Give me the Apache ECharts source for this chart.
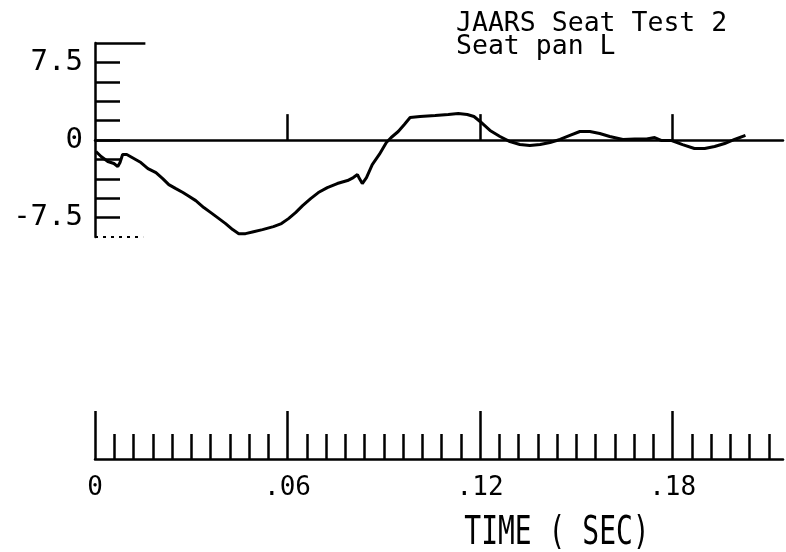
<!DOCTYPE html>
<html>
<head>
<meta charset="utf-8">
<script src="https://cdn.jsdelivr.net/npm/echarts@6/dist/echarts.min.js"></script>
<style>
  html, body { margin: 0; padding: 0; background: #fff; }
  #chart { width: 786px; height: 552px; }
</style>
</head>
<body>
<div id="chart"></div>
<script>
// Seat pan load trace, JAARS seat test 2 (time in seconds, load in plot units)
const timeSec = [
  0.0003, 0.0019, 0.0040, 0.0059, 0.0071, 0.0078, 0.0086, 0.0099, 0.0121, 0.0143,
  0.0165, 0.0190, 0.0211, 0.0230, 0.0252, 0.0274, 0.0289, 0.0314, 0.0339, 0.0361,
  0.0382, 0.0407, 0.0429, 0.0448, 0.0469, 0.0494, 0.0522, 0.0556, 0.0581, 0.0603,
  0.0625, 0.0647, 0.0672, 0.0696, 0.0724, 0.0755, 0.0787, 0.0805, 0.0818, 0.0824,
  0.0833, 0.0846, 0.0864, 0.0886, 0.0908, 0.0923, 0.0945, 0.0964, 0.0982, 0.1013,
  0.1060, 0.1101, 0.1132, 0.1160, 0.1181, 0.1200, 0.1231, 0.1262, 0.1293, 0.1324,
  0.1355, 0.1387, 0.1418, 0.1449, 0.1480, 0.1511, 0.1542, 0.1573, 0.1604, 0.1645,
  0.1682, 0.1719, 0.1744, 0.1766, 0.1797, 0.1831, 0.1868, 0.1900, 0.1931, 0.1962,
  0.1993, 0.2027
];
const seatPanLoad = [
  -1.11, -1.60, -2.08, -2.27, -2.57, -2.18, -1.40, -1.40, -1.79, -2.18,
  -2.76, -3.15, -3.73, -4.31, -4.70, -5.08, -5.37, -5.86, -6.53, -7.02,
  -7.50, -8.08, -8.66, -9.05, -9.05, -8.86, -8.66, -8.37, -8.08, -7.60,
  -7.02, -6.34, -5.66, -5.08, -4.60, -4.21, -3.92, -3.63, -3.34, -3.73,
  -4.21, -3.63, -2.37, -1.40, -0.24, 0.24, 0.82, 1.50, 2.18, 2.27,
  2.37, 2.47, 2.57, 2.47, 2.27, 1.79, 0.92, 0.34, -0.15, -0.44,
  -0.53, -0.44, -0.24, 0.05, 0.44, 0.82, 0.82, 0.63, 0.34, 0.05,
  0.10, 0.10, 0.24, -0.05, -0.05, -0.44, -0.82, -0.82, -0.63, -0.34,
  0.05, 0.44
];

// Axis ticks and labels
const loadStep = 1.875;
const loadMin = -9.375, loadMax = 9.375;
const yTickValues = [-7.5, -5.625, -3.75, -1.875, 0, 1.875, 3.75, 5.625, 7.5];
const yLabelValues = [-7.5, 0, 7.5];
const yLabelTexts = ['-7.5', '0', '7.5'];
const timeMajorTicks = [0, 0.06, 0.12, 0.18];
const timeMajorLabels = ['0', '.06', '.12', '.18'];
const timeMinorStep = 0.006;
const timeMinorCount = 35;
const timeMarkers = [0.06, 0.12, 0.18];
const markerHeight = 2.5;
const timeMax = 0.2144;

const timeMinorTicks = [];
for (let i = 1; i <= timeMinorCount; i++) {
  if (i % 10 !== 0) timeMinorTicks.push(+(i * timeMinorStep).toFixed(4));
}

const INK = '#000';
const MONO = '"DejaVu Sans Mono", "Liberation Mono", monospace';

const chart = echarts.init(document.getElementById('chart'), null, { renderer: 'canvas' });

const markerLines = timeMarkers.map(t => [{ coord: [t, 0] }, { coord: [t, markerHeight] }]);

const plotRect = { left: 95, right: 3, top: 43, bottom: 315 };
const scaleRect = { left: 95, right: 3, top: 400, bottom: 93 };

const labelFor = (values, texts) => v => {
  const i = values.findIndex(t => Math.abs(t - v) < 1e-6);
  return i >= 0 ? texts[i] : '';
};

chart.setOption({
  animation: false,
  backgroundColor: '#fff',
  grid: [
    Object.assign({}, plotRect),
    Object.assign({}, scaleRect),
    Object.assign({}, scaleRect)
  ],
  xAxis: [
    {
      gridIndex: 0, type: 'value', min: 0, max: timeMax,
      axisLine: { show: true, onZero: true, lineStyle: { color: INK, width: 2.5 } },
      axisTick: { show: false }, axisLabel: { show: false }, splitLine: { show: false }
    },
    {
      gridIndex: 1, type: 'value', min: 0, max: timeMax, position: 'bottom',
      axisLine: { show: true, onZero: false, lineStyle: { color: INK, width: 2.5 } },
      axisTick: { show: true, inside: true, length: 25, customValues: timeMinorTicks,
                  lineStyle: { color: INK, width: 2.5 } },
      axisLabel: { show: false }, splitLine: { show: false }
    },
    {
      gridIndex: 2, type: 'value', min: 0, max: timeMax, position: 'bottom',
      axisLine: { show: false, onZero: false },
      axisTick: { show: true, inside: true, length: 48, customValues: timeMajorTicks,
                  lineStyle: { color: INK, width: 2.5 } },
      axisLabel: {
        show: true, customValues: timeMajorTicks, margin: 16,
        color: INK, fontFamily: MONO, fontSize: 26,
        formatter: labelFor(timeMajorTicks, timeMajorLabels)
      },
      splitLine: { show: false }
    }
  ],
  yAxis: [
    {
      gridIndex: 0, type: 'value', min: loadMin, max: loadMax, interval: loadStep,
      axisLine: { show: true, onZero: false, lineStyle: { color: INK, width: 2.5 } },
      axisTick: { show: true, inside: true, length: 25, customValues: yTickValues,
                  lineStyle: { color: INK, width: 2.5 } },
      axisLabel: {
        show: true, customValues: yLabelValues, margin: 12,
        color: INK, fontFamily: MONO, fontSize: 29,
        formatter: labelFor(yLabelValues, yLabelTexts)
      },
      splitLine: { show: false }
    },
    { gridIndex: 1, type: 'value', min: 0, max: 1, show: false },
    { gridIndex: 2, type: 'value', min: 0, max: 1, show: false }
  ],
  series: [
    {
      type: 'line',
      xAxisIndex: 0, yAxisIndex: 0,
      data: timeSec.map((t, i) => [t, seatPanLoad[i]]),
      showSymbol: false, symbol: 'none', smooth: false,
      lineStyle: { color: INK, width: 3 },
      markLine: {
        silent: true, symbol: 'none',
        label: { show: false },
        lineStyle: { color: INK, width: 2.5, type: 'solid' },
        data: markerLines.concat([
          [{ coord: [0, loadMax] }, { coord: [0.0157, loadMax] }],
          [{ coord: [0, loadMin], lineStyle: { type: [3, 5], width: 2 } },
           { coord: [0.0150, loadMin] }]
        ])
      }
    }
  ],
  graphic: [
    {
      type: 'text', left: 456, top: 11,
      style: { text: 'JAARS Seat Test 2', fill: INK, font: '26.5px ' + MONO }
    },
    {
      type: 'text', left: 456, top: 34,
      style: { text: 'Seat pan L', fill: INK, font: '26.5px ' + MONO }
    },
    {
      type: 'text', x: 557, y: 534, scaleY: 1.4,
      style: { text: 'TIME ( SEC)', fill: INK, font: '28px ' + MONO,
               align: 'center', verticalAlign: 'middle' }
    }
  ]
});
</script>
</body>
</html>
